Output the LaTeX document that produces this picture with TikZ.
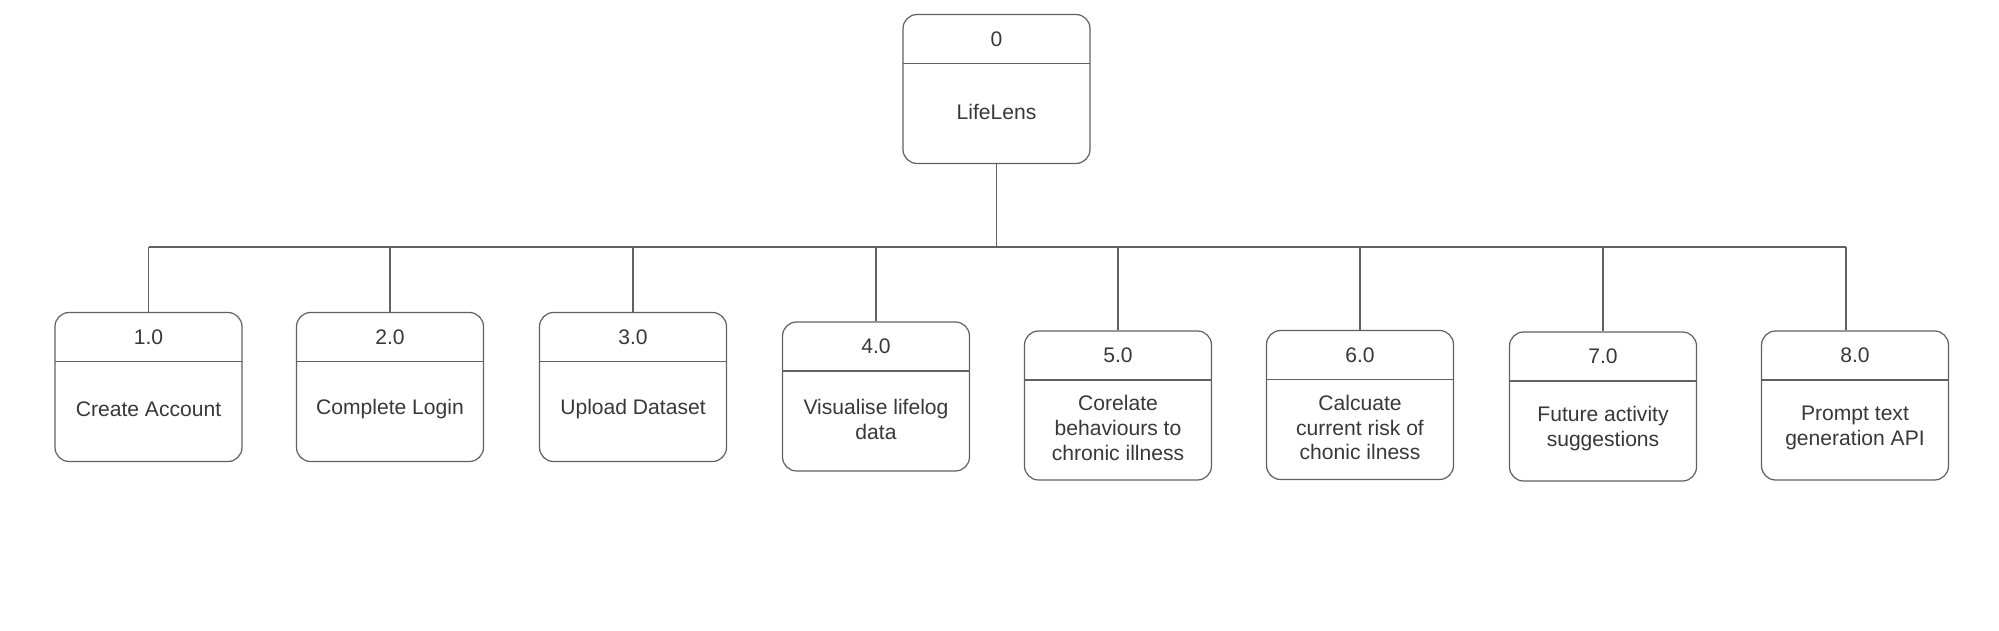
\documentclass[tikz,border=0pt]{standalone}
\usepackage{fontspec}
\setmainfont{Liberation Sans}
\usepackage{tikz}

\tikzset{
    linecol/.style={draw=black!62, line width=0.7pt},
    procbox/.style={linecol, rounded corners=0.28cm, minimum width=3.74cm, minimum height=2.98cm,
        path picture={\draw[linecol] ([yshift=-0.98cm]path picture bounding box.north west)
            -- ([yshift=-0.98cm]path picture bounding box.north east);}},
    numtext/.style={text=black!78, font=\fontsize{12}{14.2}\selectfont},
    bodytext/.style={text=black!78, align=center, font=\fontsize{12}{14.2}\selectfont}
}

\begin{document}
\begin{tikzpicture}[x=0.02cm, y=-0.02cm]
            \useasboundingbox (0, 0) rectangle (1999, 631);

            % top process
            \node[procbox] (p0) at (996.5, 89) {};
            \node[numtext] at ([yshift=-0.5cm]p0.north) {0};
            \node[bodytext] at ([yshift=-0.45cm]p0.center) {LifeLens};

            % sub processes
            \node[procbox] (p1) at (148.5, 387) {};
            \node[numtext] at ([yshift=-0.5cm]p1.north) {1.0};
            \node[bodytext] at ([yshift=-0.45cm]p1.center) {Create Account};

            \node[procbox] (p2) at (390, 387) {};
            \node[numtext] at ([yshift=-0.5cm]p2.north) {2.0};
            \node[bodytext] at ([yshift=-0.45cm]p2.center) {Complete Login};

            \node[procbox] (p3) at (633, 387) {};
            \node[numtext] at ([yshift=-0.5cm]p3.north) {3.0};
            \node[bodytext] at ([yshift=-0.45cm]p3.center) {Upload Dataset};

            \node[procbox] (p4) at (876, 396.5) {};
            \node[numtext] at ([yshift=-0.5cm]p4.north) {4.0};
            \node[bodytext] at ([yshift=-0.45cm]p4.center) {Visualise lifelog\\data};

            \node[procbox] (p5) at (1118, 405.5) {};
            \node[numtext] at ([yshift=-0.5cm]p5.north) {5.0};
            \node[bodytext] at ([yshift=-0.45cm]p5.center) {Corelate\\behaviours to\\chronic illness};

            \node[procbox] (p6) at (1360, 405) {};
            \node[numtext] at ([yshift=-0.5cm]p6.north) {6.0};
            \node[bodytext] at ([yshift=-0.45cm]p6.center) {Calcuate\\current risk of\\chonic ilness};

            \node[procbox] (p7) at (1603, 406.5) {};
            \node[numtext] at ([yshift=-0.5cm]p7.north) {7.0};
            \node[bodytext] at ([yshift=-0.45cm]p7.center) {Future activity\\suggestions};

            \node[procbox] (p8) at (1855, 405.5) {};
            \node[numtext] at ([yshift=-0.5cm]p8.north) {8.0};
            \node[bodytext] at ([yshift=-0.45cm]p8.center) {Prompt text\\generation API};

            % connectors
            \coordinate (bar) at (996.5, 247);
            \coordinate (p8top) at ([xshift=-0.18cm]p8.north);
            \draw[linecol] (p0.south) -- (bar);
            \draw[linecol] (p1.north |- bar) -- (p8top |- bar);
            \draw[linecol] (p1.north) -- (p1.north |- bar);
            \draw[linecol] (p2.north) -- (p2.north |- bar);
            \draw[linecol] (p3.north) -- (p3.north |- bar);
            \draw[linecol] (p4.north) -- (p4.north |- bar);
            \draw[linecol] (p5.north) -- (p5.north |- bar);
            \draw[linecol] (p6.north) -- (p6.north |- bar);
            \draw[linecol] (p7.north) -- (p7.north |- bar);
            \draw[linecol] (p8top) -- (p8top |- bar);
        \end{tikzpicture}
\end{document}
